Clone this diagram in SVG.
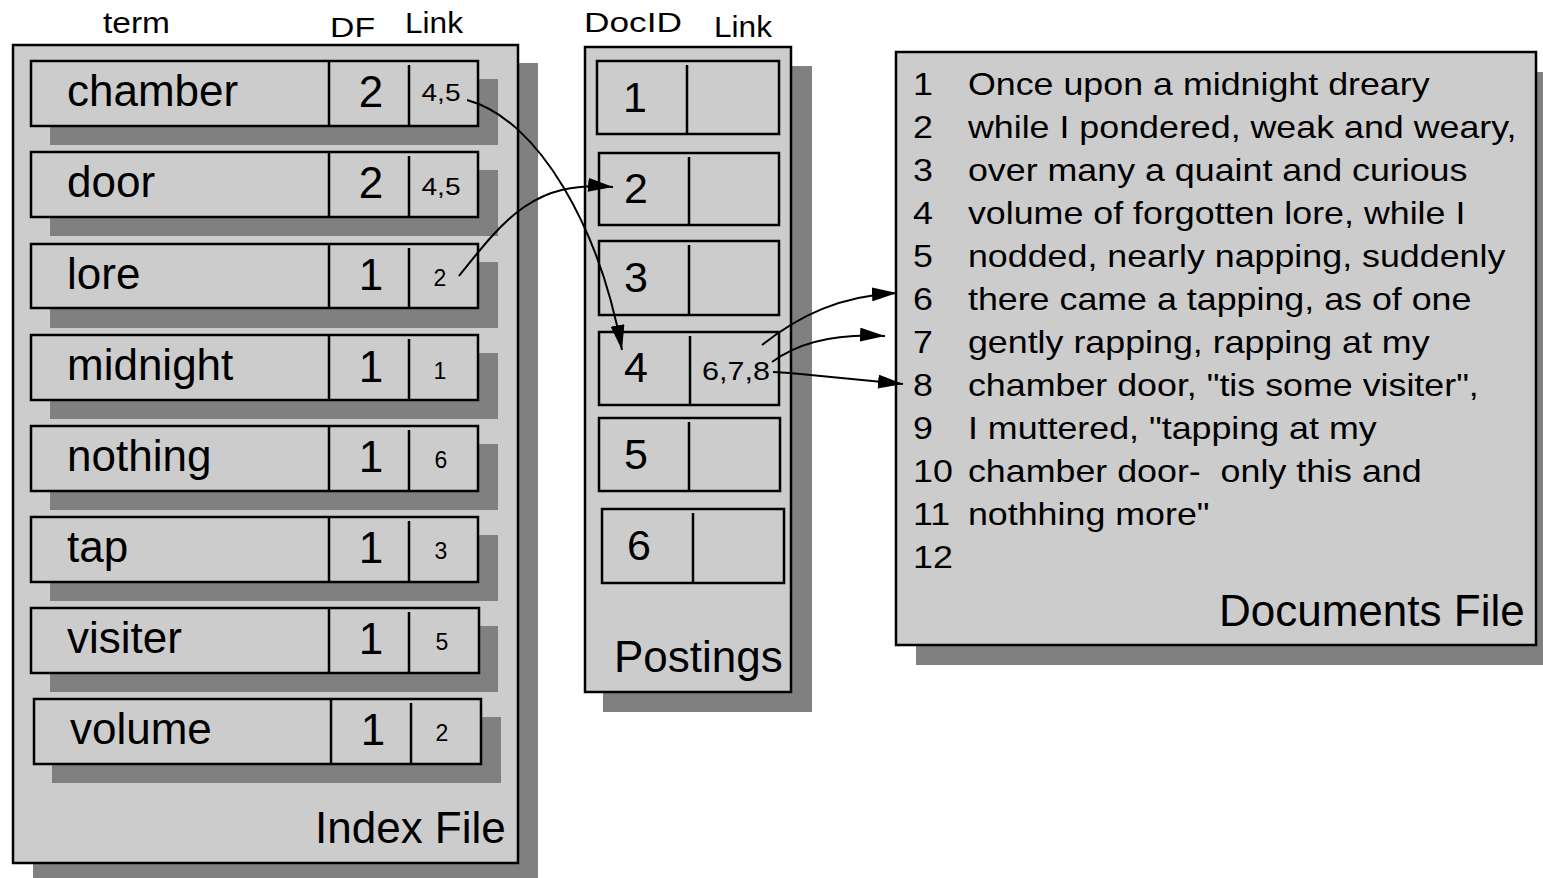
<svg xmlns="http://www.w3.org/2000/svg" width="1543" height="878" viewBox="0 0 1543 878">
  <style>
    .box { fill: #cccccc; stroke: #000; stroke-width: 2.5; }
    .shadow { fill: #808080; }
    .sep { stroke: #000; stroke-width: 2.5; }
    text { font-family: "Liberation Sans", Arial, sans-serif; fill: #000; }
    .big { font-size: 44px; }
    .num { font-size: 44px; text-anchor: middle; }
    .pnum { font-size: 43px; text-anchor: middle; }
    .small { font-size: 23px; text-anchor: middle; }
    .doc { font-size: 30.5px; }
    .conn { fill: none; stroke: #000; stroke-width: 2; }
  </style>
  <defs>
    <marker id="arrow" markerUnits="userSpaceOnUse" markerWidth="26" markerHeight="14" viewBox="0 0 26 14" refX="25" refY="7" orient="auto">
      <path d="M0,0 L25,7 L0,14 z" fill="#000"/>
    </marker>
  </defs>
  <rect width="1543" height="878" fill="#fff"/>

  <!-- column headings -->
  <g id="headings">
    <text x="103" y="33" font-size="30" textLength="67" lengthAdjust="spacingAndGlyphs">term</text>
    <text x="330" y="37" font-size="28" textLength="45" lengthAdjust="spacingAndGlyphs">DF</text>
    <text x="405" y="33" font-size="30" textLength="58" lengthAdjust="spacingAndGlyphs">Link</text>
    <text x="584" y="32" font-size="27" textLength="98" lengthAdjust="spacingAndGlyphs">DocID</text>
    <text x="714" y="37" font-size="29" textLength="58" lengthAdjust="spacingAndGlyphs">Link</text>
  </g>

  <!-- index file -->
  <g id="index-file">
    <rect class="shadow" x="33" y="63" width="505" height="830"/>
    <rect class="box" x="13" y="45" width="505" height="818"/>
    <text class="big" x="315" y="843">Index File</text>
  </g>

  <g id="term-chamber">
    <rect class="shadow" x="50" y="79" width="448" height="66"/>
    <rect class="box" x="31" y="61" width="447" height="65"/>
    <line class="sep" x1="329" y1="61" x2="329" y2="126"/>
    <line class="sep" x1="409" y1="65" x2="409" y2="126"/>
    <text class="big" x="67" y="106">chamber</text>
    <text class="num" x="371" y="107">2</text>
    <text class="small" x="441" y="101" textLength="39" lengthAdjust="spacingAndGlyphs">4,5</text>
  </g>
  <g id="term-door">
    <rect class="shadow" x="50" y="170" width="448" height="66"/>
    <rect class="box" x="31" y="152" width="447" height="65"/>
    <line class="sep" x1="329" y1="152" x2="329" y2="217"/>
    <line class="sep" x1="409" y1="156" x2="409" y2="217"/>
    <text class="big" x="67" y="197">door</text>
    <text class="num" x="371" y="198">2</text>
    <text class="small" x="441" y="195" textLength="39" lengthAdjust="spacingAndGlyphs">4,5</text>
  </g>
  <g id="term-lore">
    <rect class="shadow" x="50" y="262" width="448" height="66"/>
    <rect class="box" x="31" y="244" width="447" height="64"/>
    <line class="sep" x1="329" y1="244" x2="329" y2="308"/>
    <line class="sep" x1="409" y1="248" x2="409" y2="308"/>
    <text class="big" x="67" y="289">lore</text>
    <text class="num" x="371" y="290">1</text>
    <text class="small" x="440" y="286">2</text>
  </g>
  <g id="term-midnight">
    <rect class="shadow" x="50" y="353" width="448" height="66"/>
    <rect class="box" x="31" y="335" width="447" height="65"/>
    <line class="sep" x1="329" y1="335" x2="329" y2="400"/>
    <line class="sep" x1="409" y1="339" x2="409" y2="400"/>
    <text class="big" x="67" y="380">midnight</text>
    <text class="num" x="371" y="382">1</text>
    <text class="small" x="440" y="379">1</text>
  </g>
  <g id="term-nothing">
    <rect class="shadow" x="50" y="444" width="448" height="66"/>
    <rect class="box" x="31" y="426" width="447" height="65"/>
    <line class="sep" x1="329" y1="426" x2="329" y2="491"/>
    <line class="sep" x1="409" y1="430" x2="409" y2="491"/>
    <text class="big" x="67" y="471">nothing</text>
    <text class="num" x="371" y="472">1</text>
    <text class="small" x="441" y="468">6</text>
  </g>
  <g id="term-tap">
    <rect class="shadow" x="50" y="535" width="448" height="66"/>
    <rect class="box" x="31" y="517" width="447" height="65"/>
    <line class="sep" x1="329" y1="517" x2="329" y2="582"/>
    <line class="sep" x1="409" y1="521" x2="409" y2="582"/>
    <text class="big" x="67" y="562">tap</text>
    <text class="num" x="371" y="563">1</text>
    <text class="small" x="441" y="559">3</text>
  </g>
  <g id="term-visiter">
    <rect class="shadow" x="50" y="626" width="448" height="66"/>
    <rect class="box" x="31" y="608" width="448" height="65"/>
    <line class="sep" x1="329" y1="608" x2="329" y2="673"/>
    <line class="sep" x1="409" y1="612" x2="409" y2="673"/>
    <text class="big" x="67" y="653">visiter</text>
    <text class="num" x="371" y="654">1</text>
    <text class="small" x="442" y="650">5</text>
  </g>
  <g id="term-volume">
    <rect class="shadow" x="52" y="717" width="449" height="66"/>
    <rect class="box" x="34" y="699" width="447" height="65"/>
    <line class="sep" x1="331" y1="699" x2="331" y2="764"/>
    <line class="sep" x1="411" y1="703" x2="411" y2="764"/>
    <text class="big" x="70" y="744">volume</text>
    <text class="num" x="373" y="745">1</text>
    <text class="small" x="442" y="741">2</text>
  </g>

  <!-- postings -->
  <g id="postings">
    <rect class="shadow" x="603" y="66" width="209" height="646"/>
    <rect class="box" x="585" y="47" width="206" height="645"/>
    <text class="big" x="614" y="672">Postings</text>
  </g>
  <g id="post-1">
    <rect class="box" x="597" y="61" width="182" height="73"/>
    <line class="sep" x1="687" y1="65" x2="687" y2="134"/>
    <text class="pnum" x="635" y="112">1</text>
  </g>
  <g id="post-2">
    <rect class="box" x="599" y="153" width="180" height="72"/>
    <line class="sep" x1="689" y1="157" x2="689" y2="225"/>
    <text class="pnum" x="636" y="203">2</text>
  </g>
  <g id="post-3">
    <rect class="box" x="599" y="241" width="180" height="74"/>
    <line class="sep" x1="689" y1="245" x2="689" y2="315"/>
    <text class="pnum" x="636" y="292">3</text>
  </g>
  <g id="post-4">
    <rect class="box" x="599" y="332" width="180" height="73"/>
    <line class="sep" x1="690" y1="336" x2="690" y2="405"/>
    <text class="pnum" x="636" y="382">4</text>
    <text x="702" y="380" font-size="25" textLength="68" lengthAdjust="spacingAndGlyphs">6,7,8</text>
  </g>
  <g id="post-5">
    <rect class="box" x="599" y="418" width="181" height="73"/>
    <line class="sep" x1="689" y1="422" x2="689" y2="491"/>
    <text class="pnum" x="636" y="469">5</text>
  </g>
  <g id="post-6">
    <rect class="box" x="602" y="509" width="182" height="74"/>
    <line class="sep" x1="693" y1="513" x2="693" y2="583"/>
    <text class="pnum" x="639" y="560">6</text>
  </g>

  <!-- documents file -->
  <g id="documents-file">
    <rect class="shadow" x="916" y="72" width="640" height="593"/>
    <rect class="box" x="896" y="52" width="640" height="593"/>
    <g class="doc" transform="translate(913 0) scale(1.174 1)">
      <text x="0" y="95">1</text><text x="46.8" y="95">Once upon a midnight dreary</text>
      <text x="0" y="138">2</text><text x="46.8" y="138">while I pondered, weak and weary,</text>
      <text x="0" y="181">3</text><text x="46.8" y="181">over many a quaint and curious</text>
      <text x="0" y="224">4</text><text x="46.8" y="224">volume of forgotten lore, while I</text>
      <text x="0" y="267">5</text><text x="46.8" y="267">nodded, nearly napping, suddenly</text>
      <text x="0" y="310">6</text><text x="46.8" y="310">there came a tapping, as of one</text>
      <text x="0" y="353">7</text><text x="46.8" y="353">gently rapping, rapping at my</text>
      <text x="0" y="396">8</text><text x="46.8" y="396">chamber door, "tis some visiter",</text>
      <text x="0" y="439">9</text><text x="46.8" y="439">I muttered, "tapping at my</text>
      <text x="0" y="482">10</text><text x="46.8" y="482" xml:space="preserve">chamber door-  only this and</text>
      <text x="0" y="525">11</text><text x="46.8" y="525">nothhing more"</text>
      <text x="0" y="568">12</text>
    </g>
    <text class="big" x="1219" y="626">Documents File</text>
  </g>

  <!-- links between the files -->
  <g id="connectors">
    <path class="conn" d="M467,100 C540,120 600,230 622,350" marker-end="url(#arrow)"/>
    <path class="conn" d="M459,276 C505,218 535,180 613,187" marker-end="url(#arrow)"/>
    <path class="conn" d="M762,345 C800,315 840,296 897,293" marker-end="url(#arrow)"/>
    <path class="conn" d="M772,362 C795,345 830,333 885,336" marker-end="url(#arrow)"/>
    <path class="conn" d="M773,372 L790,373 L903,384" marker-end="url(#arrow)"/>
  </g>
</svg>
